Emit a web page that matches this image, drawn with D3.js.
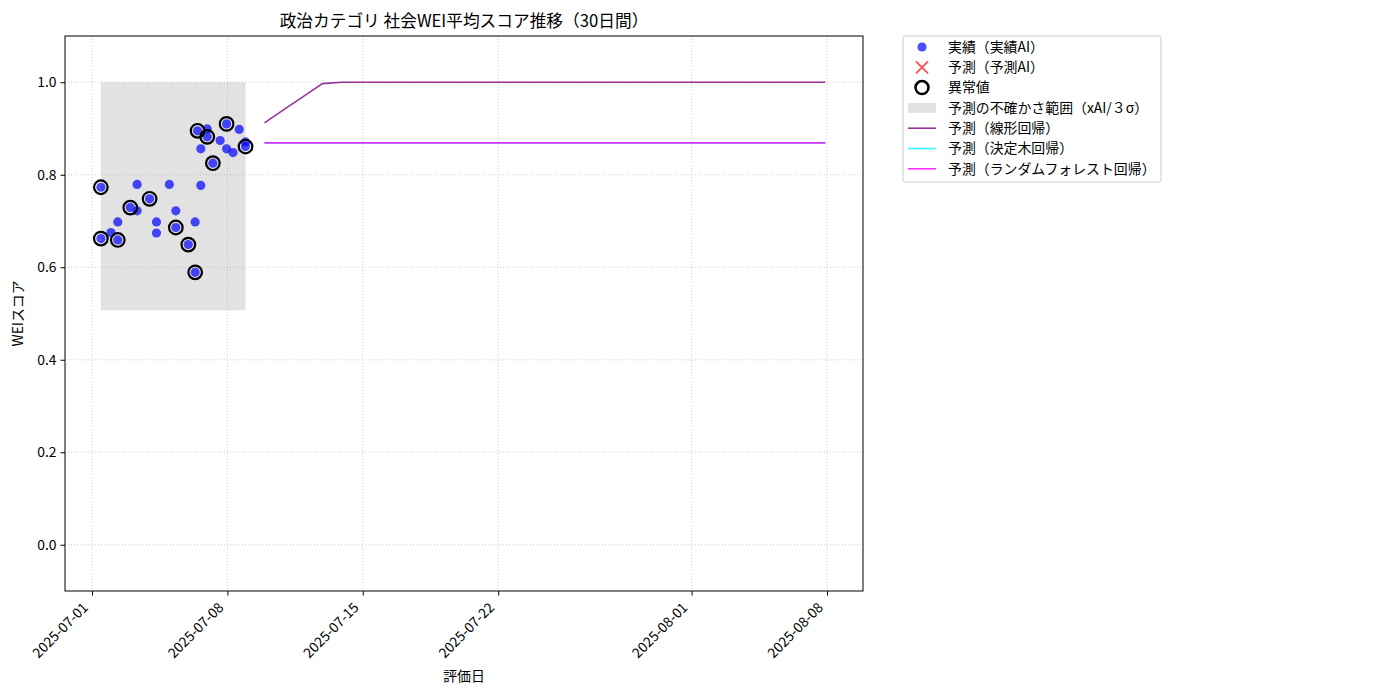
<!DOCTYPE html>
<html>
<head>
<meta charset="utf-8">
<script src="https://cdn.jsdelivr.net/npm/d3@7"></script>
<style>
  body { margin: 0; background: #fff; }
  svg text { font-family: "Noto Sans CJK JP", "DejaVu Sans", sans-serif; fill: #000; }
</style>
</head>
<body>
<svg id="chart" width="1400" height="700"></svg>
<script>
// actual scores (blue dots)
const actualDates = [
  "2025-07-01T11:00", "2025-07-01T11:00", "2025-07-01T23:30", "2025-07-02T08:00", "2025-07-02T08:00",
  "2025-07-02T23:30", "2025-07-03T08:00", "2025-07-03T08:00", "2025-07-03T23:30", "2025-07-04T08:00",
  "2025-07-04T08:00", "2025-07-05T00:00", "2025-07-05T08:00", "2025-07-05T08:00", "2025-07-05T23:30",
  "2025-07-06T08:00", "2025-07-06T08:00", "2025-07-06T11:00", "2025-07-06T15:00", "2025-07-06T15:00",
  "2025-07-06T23:00", "2025-07-06T23:00", "2025-07-07T06:00", "2025-07-07T15:00", "2025-07-07T23:00",
  "2025-07-07T23:00", "2025-07-08T07:00", "2025-07-08T14:40", "2025-07-08T22:30", "2025-07-08T22:30"
];
const actualScores = [
  0.773, 0.662, 0.675, 0.659, 0.698,
  0.729, 0.779, 0.722, 0.748, 0.698,
  0.674, 0.779, 0.722, 0.686, 0.649,
  0.698, 0.589, 0.895, 0.777, 0.856,
  0.882, 0.899, 0.825, 0.874, 0.910,
  0.856, 0.848, 0.898, 0.861, 0.871
];

// outliers (black rings)
const outlierDates = [
  "2025-07-01T11:00", "2025-07-01T11:00", "2025-07-02T08:00", "2025-07-02T23:30", "2025-07-03T23:30",
  "2025-07-05T08:00", "2025-07-05T23:30", "2025-07-06T08:00", "2025-07-06T11:00", "2025-07-06T23:00",
  "2025-07-07T06:00", "2025-07-07T23:00", "2025-07-08T22:30"
];
const outlierScores = [
  0.773, 0.662, 0.659, 0.729, 0.748,
  0.686, 0.649, 0.589, 0.895, 0.882,
  0.825, 0.910, 0.861
];

// uncertainty band (xAI 3 sigma)
const bandLow = 0.507;
const bandHigh = 1.0;

// 30 day forecasts
const forecastStart = "2025-07-09T22:00";
const linearPred = [
  0.912, 0.941, 0.969, 0.997, 1.0, 1.0, 1.0, 1.0, 1.0, 1.0,
  1.0, 1.0, 1.0, 1.0, 1.0, 1.0, 1.0, 1.0, 1.0, 1.0,
  1.0, 1.0, 1.0, 1.0, 1.0, 1.0, 1.0, 1.0, 1.0, 1.0
];
const treePred = [
  0.869, 0.869, 0.869, 0.869, 0.869, 0.869, 0.869, 0.869, 0.869, 0.869,
  0.869, 0.869, 0.869, 0.869, 0.869, 0.869, 0.869, 0.869, 0.869, 0.869,
  0.869, 0.869, 0.869, 0.869, 0.869, 0.869, 0.869, 0.869, 0.869, 0.869
];
const forestPred = [
  0.869, 0.869, 0.869, 0.869, 0.869, 0.869, 0.869, 0.869, 0.869, 0.869,
  0.869, 0.869, 0.869, 0.869, 0.869, 0.869, 0.869, 0.869, 0.869, 0.869,
  0.869, 0.869, 0.869, 0.869, 0.869, 0.869, 0.869, 0.869, 0.869, 0.869
];

const xTicks = ["2025-07-01", "2025-07-08", "2025-07-15", "2025-07-22", "2025-08-01", "2025-08-08"];
const yTicks = [0.0, 0.2, 0.4, 0.6, 0.8, 1.0];
const xDomain = ["2025-06-29T14:30", "2025-08-09T20:40"];
const yDomain = [-0.1, 1.1];

const legendLabels = [
  "実績（実績AI）", "予測（予測AI）", "異常値", "予測の不確かさ範囲（xAI/３σ）",
  "予測（線形回帰）", "予測（決定木回帰）", "予測（ランダムフォレスト回帰）"
];

const parseT = d3.timeParse("%Y-%m-%dT%H:%M");
const parseD = d3.timeParse("%Y-%m-%d");
const fmt = d3.timeFormat("%Y-%m-%d");

const margin = { left: 65, right: 537, top: 36, bottom: 109 };
const W = 1400, H = 700;
const FS = 13.9;

const svg = d3.select("#chart");
const x = d3.scaleTime().domain(xDomain.map(parseT)).range([margin.left, W - margin.right]);
const y = d3.scaleLinear().domain(yDomain).range([H - margin.bottom, margin.top]);

const actual = actualDates.map((d, i) => ({ t: parseT(d), v: actualScores[i] }));
const outliers = outlierDates.map((d, i) => ({ t: parseT(d), v: outlierScores[i] }));
const fc0 = parseT(forecastStart);
const fcDates = linearPred.map((_, i) => d3.timeDay.offset(fc0, i));

// grid
const grid = svg.append("g").attr("stroke", "#b0b0b0").attr("stroke-width", 0.8)
  .attr("stroke-dasharray", "1,2").attr("opacity", 0.8);
xTicks.forEach(t => {
  grid.append("line").attr("x1", x(parseD(t))).attr("x2", x(parseD(t)))
    .attr("y1", margin.top).attr("y2", H - margin.bottom);
});
yTicks.forEach(t => {
  grid.append("line").attr("x1", margin.left).attr("x2", W - margin.right)
    .attr("y1", y(t)).attr("y2", y(t));
});

// uncertainty band
const tMin = d3.min(actual, d => d.t), tMax = d3.max(actual, d => d.t);
svg.append("rect")
  .attr("x", x(tMin)).attr("width", x(tMax) - x(tMin))
  .attr("y", y(bandHigh)).attr("height", y(bandLow) - y(bandHigh))
  .attr("fill", "#a0a0a0").attr("opacity", 0.3);

// actual points
svg.append("g").selectAll("circle").data(actual).join("circle")
  .attr("cx", d => x(d.t)).attr("cy", d => y(d.v)).attr("r", 4.6)
  .attr("fill", "blue").attr("opacity", 0.7);

// outliers
svg.append("g").selectAll("circle").data(outliers).join("circle")
  .attr("cx", d => x(d.t)).attr("cy", d => y(d.v)).attr("r", 6.8)
  .attr("fill", "none").attr("stroke", "#000").attr("stroke-width", 2.2);

// forecast lines
const line = d3.line().x(d => x(d[0])).y(d => y(d[1]));
const series = [
  { vals: linearPred, color: "purple" },
  { vals: treePred, color: "cyan" },
  { vals: forestPred, color: "magenta" }
];
series.forEach(s => {
  svg.append("path").datum(fcDates.map((t, i) => [t, s.vals[i]]))
    .attr("d", line).attr("fill", "none").attr("stroke", s.color)
    .attr("stroke-width", 1.6).attr("opacity", 0.8);
});

// frame
svg.append("rect").attr("x", margin.left).attr("y", margin.top)
  .attr("width", W - margin.right - margin.left).attr("height", H - margin.bottom - margin.top)
  .attr("fill", "none").attr("stroke", "#000").attr("stroke-width", 1);

// axes
const xAxis = svg.append("g").attr("transform", `translate(0,${H - margin.bottom})`)
  .call(d3.axisBottom(x).tickValues(xTicks.map(parseD)).tickFormat(fmt).tickSize(4.5));
xAxis.select(".domain").remove();
xAxis.selectAll("text").attr("font-size", FS)
  .attr("text-anchor", "end").attr("y", 0).attr("dy", "0.35em")
  .attr("transform", "translate(-7,14) rotate(-45)");

const yAxis = svg.append("g").attr("transform", `translate(${margin.left},0)`)
  .call(d3.axisLeft(y).tickValues(yTicks).tickFormat(d3.format(".1f")).tickSize(4.5).tickPadding(4));
yAxis.select(".domain").remove();
yAxis.selectAll("text").attr("font-size", FS);

// labels
svg.append("text").attr("x", (margin.left + W - margin.right) / 2).attr("y", 27)
  .attr("text-anchor", "middle").attr("font-size", 16.7).text("政治カテゴリ 社会WEI平均スコア推移（30日間）");
svg.append("text").attr("x", (margin.left + W - margin.right) / 2).attr("y", 681)
  .attr("text-anchor", "middle").attr("font-size", FS).text("評価日");
svg.append("text").attr("transform", `translate(23,${(margin.top + H - margin.bottom) / 2}) rotate(-90)`)
  .attr("text-anchor", "middle").attr("font-size", FS).text("WEIスコア");

// legend
const lg = svg.append("g").attr("transform", "translate(903,36)");
lg.append("rect").attr("width", 258).attr("height", 146).attr("rx", 2)
  .attr("fill", "#fff").attr("stroke", "#ccc");
const rowY = i => 11 + i * 20.3;
legendLabels.forEach((lab, i) => {
  lg.append("text").attr("x", 45).attr("y", rowY(i)).attr("dy", "0.35em")
    .attr("font-size", FS).text(lab);
});
lg.append("circle").attr("cx", 19).attr("cy", rowY(0)).attr("r", 4.6).attr("fill", "blue").attr("opacity", 0.7);
const xg = lg.append("g").attr("stroke", "red").attr("opacity", 0.7).attr("stroke-width", 1.8);
xg.append("line").attr("x1", 13).attr("x2", 25).attr("y1", rowY(1) - 6).attr("y2", rowY(1) + 6);
xg.append("line").attr("x1", 13).attr("x2", 25).attr("y1", rowY(1) + 6).attr("y2", rowY(1) - 6);
lg.append("circle").attr("cx", 19).attr("cy", rowY(2)).attr("r", 6.5)
  .attr("fill", "none").attr("stroke", "#000").attr("stroke-width", 2.5);
lg.append("rect").attr("x", 5).attr("y", rowY(3) - 5).attr("width", 28).attr("height", 10)
  .attr("fill", "#a0a0a0").attr("opacity", 0.3);
series.forEach((s, i) => {
  lg.append("line").attr("x1", 5).attr("x2", 33).attr("y1", rowY(4 + i)).attr("y2", rowY(4 + i))
    .attr("stroke", s.color).attr("stroke-width", 1.6).attr("opacity", 0.8);
});
</script>
</body>
</html>
